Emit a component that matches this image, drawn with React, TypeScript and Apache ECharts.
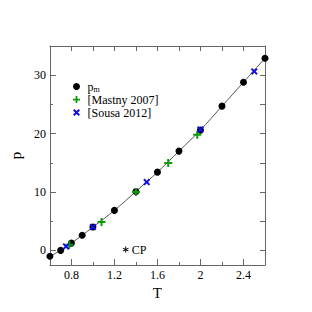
import React, { useEffect, useRef } from "react";
import * as echarts from "echarts";

// p_m (black circles, joined by line)
const pmT = [0.6, 0.7, 0.8, 0.9, 1.0, 1.2, 1.4, 1.6, 1.8, 2.0, 2.2, 2.4, 2.6];
const pmP = [-1.0, 0.0, 1.25, 2.6, 4.0, 6.85, 10.1, 13.4, 17.0, 20.6, 24.7, 28.8, 32.9];

// [Mastny 2007] (green +)
const mastnyT = [0.78, 1.08, 1.4, 1.7, 1.97];
const mastnyP = [0.98, 4.85, 10.0, 14.95, 19.8];

// [Sousa 2012] (blue x)
const sousaT = [0.75, 1.0, 1.5, 2.0, 2.5];
const sousaP = [0.68, 4.0, 11.7, 20.7, 30.65];

// critical point
const cpT = [1.305];
const cpP = [0.15];

const xMajor = [0.8, 1.2, 1.6, 2.0, 2.4];
const xMinor = [1.0, 1.4, 1.8, 2.2];
const xAll = [0.8, 1.0, 1.2, 1.4, 1.6, 1.8, 2.0, 2.2, 2.4];
const yMajor = [0, 10, 20, 30];
const yMinor = [5, 15, 25];
const yAll = [0, 5, 10, 15, 20, 25, 30];

const FONT = "Liberation Serif";
const AXIS_COLOR = "#666";

const PLUS =
  "path://M-1,-4 L1,-4 L1,-1 L4,-1 L4,1 L1,1 L1,4 L-1,4 L-1,1 L-4,1 L-4,-1 L-1,-1 Z";
const CROSS =
  "path://M2.12,-3.54 L3.54,-2.12 L1.41,0 L3.54,2.12 L2.12,3.54 L0,1.41 L-2.12,3.54 L-3.54,2.12 L-1.41,0 L-3.54,-2.12 L-2.12,-3.54 L0,-1.41 Z";
const STAR =
  "path://M-0.6,-4 L0.6,-4 L0.6,4 L-0.6,4 Z M3.164,2.52 L-3.764,-1.48 L-3.164,-2.52 L3.764,1.48 Z M-3.764,1.48 L3.164,-2.52 L3.764,-1.48 L-3.164,2.52 Z";

const zip = (a: number[], b: number[]) => a.map((v, i) => [v, b[i]]);

export default function App() {
  const ref = useRef<HTMLDivElement>(null);
  useEffect(() => {
    if (!ref.current) return;
    const chart = echarts.init(ref.current, undefined, { renderer: "svg" });
    const xBase = { type: "value", min: 0.6, max: 2.6, gridIndex: 0 } as any;
    const yBase = { type: "value", min: -2.5, max: 35, gridIndex: 0 } as any;
    const lineStyle = { color: AXIS_COLOR, width: 1 };
    chart.setOption({
      animation: false,
      backgroundColor: "#fff",
      textStyle: { fontFamily: FONT },
      grid: { left: 46, right: 47, top: 46, bottom: 47 },
      legend: {
        orient: "vertical",
        left: 68,
        top: 75,
        itemWidth: 12,
        itemHeight: 7,
        itemGap: 0,
        data: ["pm", "[Mastny 2007]", "[Sousa 2012]"],
        formatter: (n: string) => (n === "pm" ? "{t|p}{sub|m}" : "{t|" + n + "}"),
        textStyle: {
          fontFamily: FONT,
          fontSize: 12,
          color: "#000",
          lineHeight: 13,
          rich: {
            t: { fontFamily: FONT, fontSize: 12, color: "#000", lineHeight: 13 },
            sub: { fontFamily: FONT, fontSize: 8, color: "#000", verticalAlign: "bottom", padding: [5, 0, 0, 0], lineHeight: 13 },
          },
        },
      },
      xAxis: [
        {
          ...xBase,
          position: "bottom",
          name: "T",
          nameLocation: "middle",
          nameGap: 18,
          nameTextStyle: { fontFamily: FONT, fontSize: 15, color: "#000" },
          axisLine: { show: true, onZero: false, lineStyle },
          axisTick: { show: true, inside: true, length: 6, customValues: xMajor, lineStyle },
          axisLabel: { show: true, customValues: xMajor, fontFamily: FONT, fontSize: 12, color: "#000", margin: 4 },
          splitLine: { show: false },
        },
        {
          ...xBase,
          position: "bottom",
          axisLine: { show: false, onZero: false },
          axisTick: { show: true, inside: true, length: 3, customValues: xMinor, lineStyle },
          axisLabel: { show: false },
          splitLine: { show: false },
        },
        {
          ...xBase,
          position: "top",
          axisLine: { show: true, onZero: false, lineStyle },
          axisTick: { show: true, inside: true, length: 5, customValues: xAll, lineStyle },
          axisLabel: { show: false },
          splitLine: { show: false },
        },
      ],
      yAxis: [
        {
          ...yBase,
          position: "left",
          name: "p",
          nameLocation: "middle",
          nameGap: 26,
          nameTextStyle: { fontFamily: FONT, fontSize: 15, color: "#000" },
          axisLine: { show: true, onZero: false, lineStyle },
          axisTick: { show: true, inside: true, length: 6, customValues: yMajor, lineStyle },
          axisLabel: { show: true, customValues: yMajor, fontFamily: FONT, fontSize: 12, color: "#000", margin: 4 },
          splitLine: { show: false },
        },
        {
          ...yBase,
          position: "left",
          axisLine: { show: false, onZero: false },
          axisTick: { show: true, inside: true, length: 3, customValues: yMinor, lineStyle },
          axisLabel: { show: false },
          splitLine: { show: false },
        },
        {
          ...yBase,
          position: "right",
          axisLine: { show: true, onZero: false, lineStyle },
          axisTick: { show: true, inside: true, length: 5, customValues: yAll, lineStyle },
          axisLabel: { show: false },
          splitLine: { show: false },
        },
      ],
      series: [
        {
          name: "curve",
          type: "line",
          data: zip(pmT, pmP),
          smooth: 0.3,
          showSymbol: false,
          symbol: "none",
          lineStyle: { color: "#555", width: 1 },
          z: 1,
        },
        {
          name: "pm",
          type: "scatter",
          data: zip(pmT, pmP),
          symbol: "circle",
          symbolSize: 7,
          itemStyle: { color: "#000", opacity: 1 },
          z: 2,
        },
        {
          name: "[Mastny 2007]",
          type: "scatter",
          data: zip(mastnyT, mastnyP),
          symbol: PLUS,
          symbolSize: 8,
          itemStyle: { color: "#0a9a0a", opacity: 1 },
          z: 3,
        },
        {
          name: "[Sousa 2012]",
          type: "scatter",
          data: zip(sousaT, sousaP),
          symbol: CROSS,
          symbolSize: 7,
          itemStyle: { color: "#1010e0", opacity: 1 },
          z: 4,
        },
        {
          name: "CP",
          type: "scatter",
          data: zip(cpT, cpP),
          symbol: STAR,
          symbolSize: 6,
          itemStyle: { color: "#000", opacity: 1 },
          label: {
            show: true,
            position: "right",
            distance: 3,
            formatter: "CP",
            fontFamily: FONT,
            fontSize: 12,
            color: "#000",
          },
          z: 4,
        },
      ],
    });
    return () => chart.dispose();
  }, []);
  return <div ref={ref} style={{ width: 312, height: 312, margin: -8 }} />;
}
